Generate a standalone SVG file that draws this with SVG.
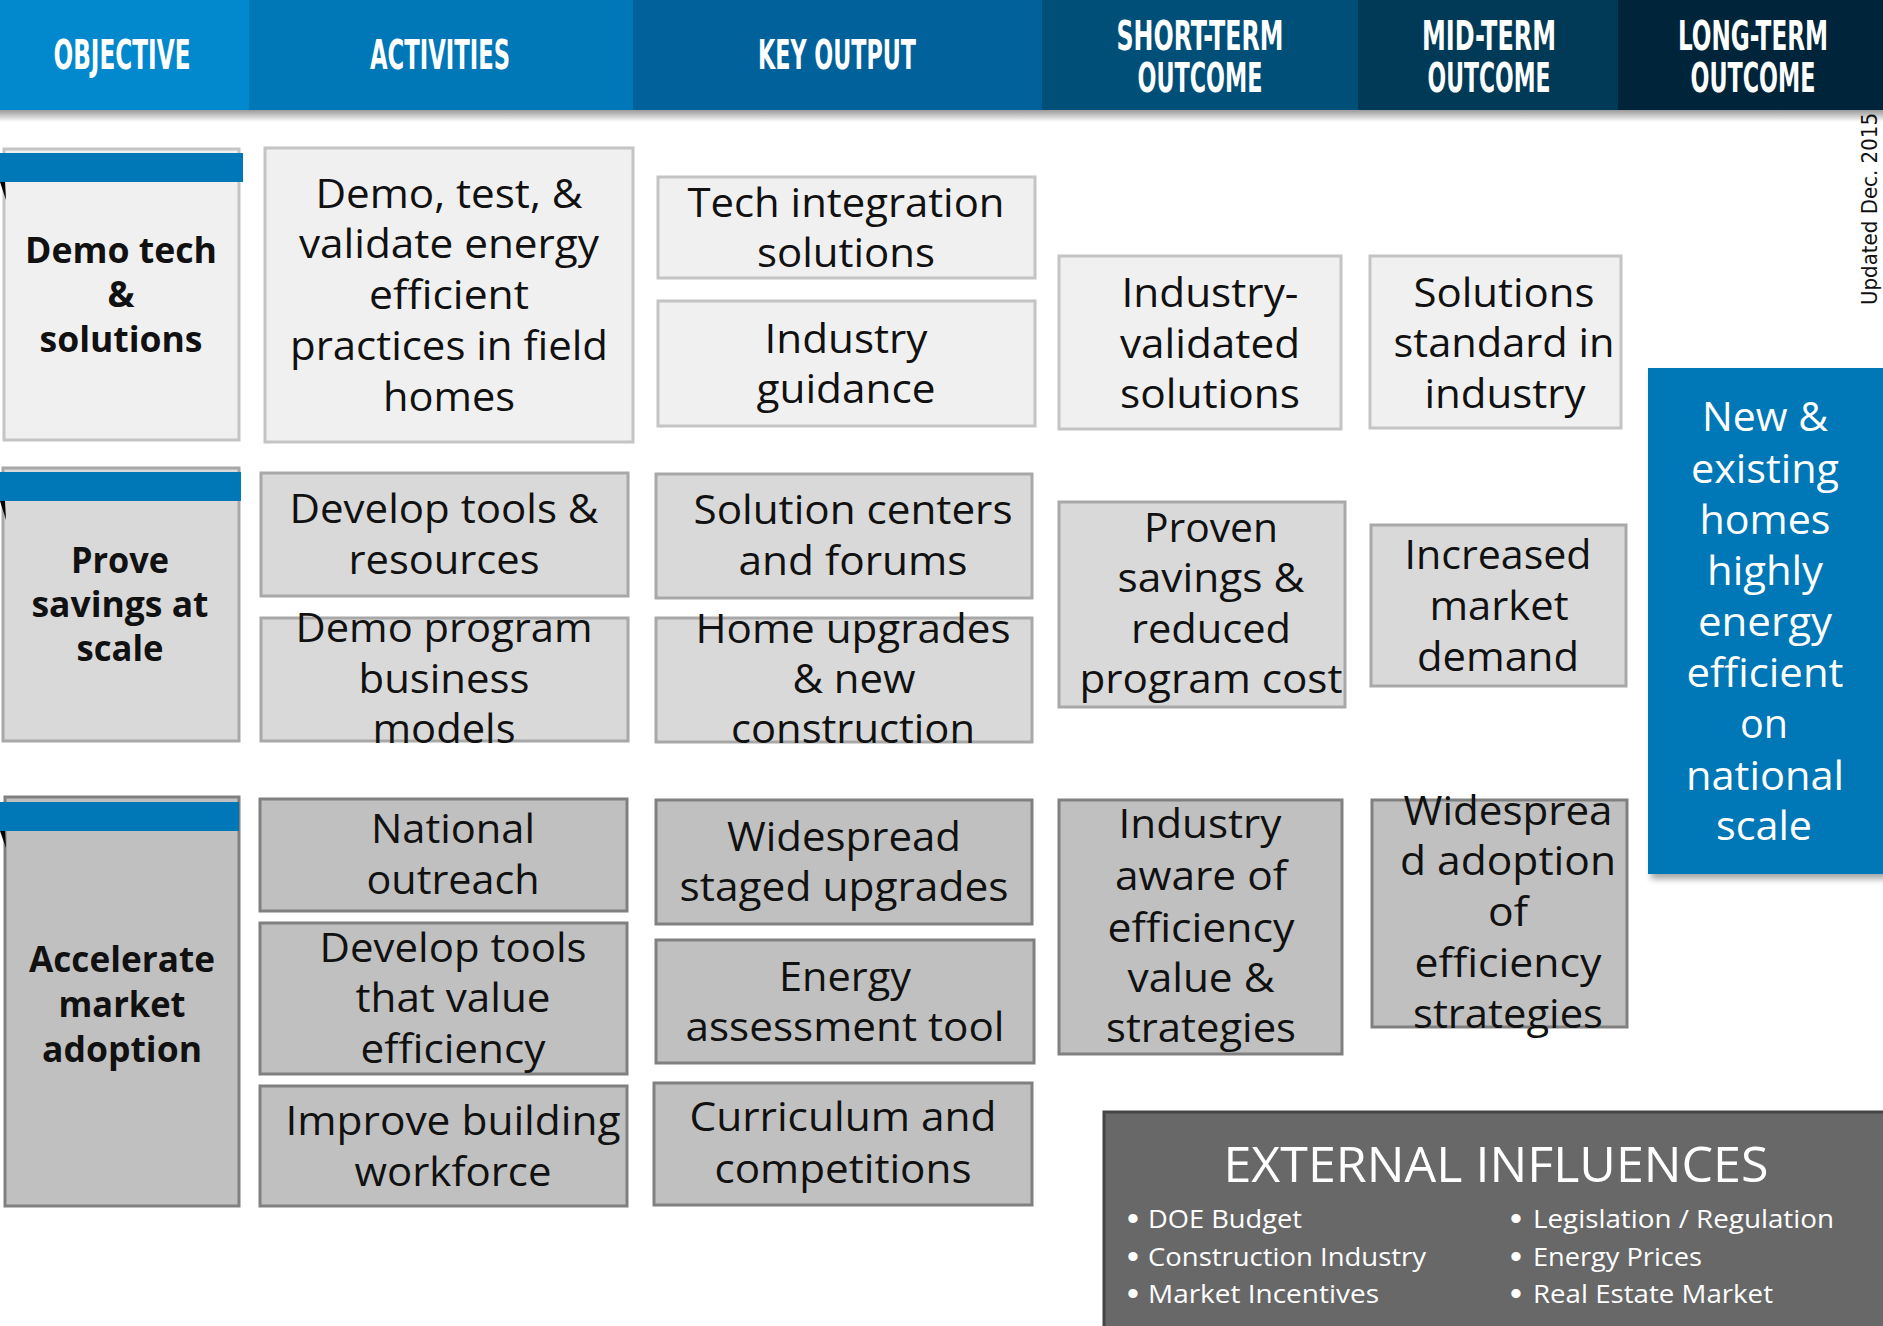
<svg xmlns="http://www.w3.org/2000/svg" width="1883" height="1326" viewBox="0 0 1883 1326">
<style>
.t{font-family:"Open Sans","Noto Sans",sans-serif;font-size:40px;text-anchor:middle;fill:#111}
.ob{font-weight:bold;font-size:36px}
.w{fill:#fff}
.h{font-family:"Liberation Sans Narrow","DejaVu Sans Condensed","Liberation Sans",sans-serif;font-weight:bold;font-size:40px;fill:#fff;text-anchor:middle}
.upd{font-family:"Liberation Sans Narrow","DejaVu Sans Condensed","Liberation Sans",sans-serif;font-size:21px;fill:#111;text-anchor:middle}
.ext{font-family:"Open Sans","Noto Sans",sans-serif;font-size:26px;fill:#fff}
.bul{font-family:"Liberation Sans",sans-serif;font-size:34px;fill:#fff;text-anchor:middle}
.b1{fill:#f0f0f0;stroke:#c4c4c4;stroke-width:3}
.b2{fill:#d9d9d9;stroke:#a8a8a8;stroke-width:3}
.b3{fill:#c0c0c0;stroke:#808080;stroke-width:3}
.bar{fill:#0077b6}
.wedge{fill:#000}
</style>
<defs>
<linearGradient id="hsh" x1="0" y1="0" x2="0" y2="1">
<stop offset="0" stop-color="#9a9a9a"/>
<stop offset="1" stop-color="#ffffff"/>
</linearGradient>
<filter id="ds" x="-10%" y="-10%" width="130%" height="130%">
<feDropShadow dx="3" dy="5" stdDeviation="3" flood-color="#000" flood-opacity="0.35"/>
</filter>
</defs>
<rect x="0" y="0" width="1883" height="1326" fill="#fff"/>

<g id="header">
<rect x="0" y="110" width="1883" height="12" fill="url(#hsh)"/>
<rect x="0" y="0" width="249" height="110" fill="#0288cd"/>
<rect x="249" y="0" width="384" height="110" fill="#0077b7"/>
<rect x="633" y="0" width="409" height="110" fill="#00619b"/>
<rect x="1042" y="0" width="316" height="110" fill="#004f79"/>
<rect x="1358" y="0" width="260" height="110" fill="#003a57"/>
<rect x="1618" y="0" width="265" height="110" fill="#00253a"/>
<text class="h" x="122" y="69" textLength="137" lengthAdjust="spacingAndGlyphs">OBJECTIVE</text>
<text class="h" x="440" y="69" textLength="140" lengthAdjust="spacingAndGlyphs">ACTIVITIES</text>
<text class="h" x="837" y="69" textLength="158" lengthAdjust="spacingAndGlyphs">KEY OUTPUT</text>
<text class="h" x="1200" y="50" textLength="167" lengthAdjust="spacingAndGlyphs">SHORT-TERM</text>
<text class="h" x="1200" y="92" textLength="125" lengthAdjust="spacingAndGlyphs">OUTCOME</text>
<text class="h" x="1489" y="50" textLength="134" lengthAdjust="spacingAndGlyphs">MID-TERM</text>
<text class="h" x="1489" y="92" textLength="123" lengthAdjust="spacingAndGlyphs">OUTCOME</text>
<text class="h" x="1753" y="50" textLength="150" lengthAdjust="spacingAndGlyphs">LONG-TERM</text>
<text class="h" x="1753" y="92" textLength="125" lengthAdjust="spacingAndGlyphs">OUTCOME</text>
</g>

<text class="upd" transform="translate(1877,209) rotate(-90)" textLength="192" lengthAdjust="spacingAndGlyphs">Updated Dec. 2015</text>

<g id="connectors"></g>

<g id="obj1">
<rect class="b1" x="4" y="149" width="235" height="291"/>
<rect class="bar" x="0" y="153" width="243" height="29"/>
<polygon class="wedge" points="0,182 5,182 6,200"/>
<text class="t ob" x="121" y="263" textLength="192" lengthAdjust="spacingAndGlyphs">Demo tech</text>
<text class="t ob" x="121" y="307">&amp;</text>
<text class="t ob" x="121" y="352" textLength="163" lengthAdjust="spacingAndGlyphs">solutions</text>
</g>

<g id="act1">
<rect class="b1" x="265" y="148" width="368" height="294"/>
<text class="t" x="449" y="208" textLength="267" lengthAdjust="spacingAndGlyphs">Demo, test, &amp;</text>
<text class="t" x="449" y="258" textLength="300" lengthAdjust="spacingAndGlyphs">validate energy</text>
<text class="t" x="449" y="309" textLength="160" lengthAdjust="spacingAndGlyphs">efficient</text>
<text class="t" x="449" y="360" textLength="318" lengthAdjust="spacingAndGlyphs">practices in field</text>
<text class="t" x="449" y="411" textLength="132" lengthAdjust="spacingAndGlyphs">homes</text>
</g>

<g id="out1a">
<rect class="b1" x="658" y="177" width="377" height="101"/>
<text class="t" x="846" y="217" textLength="317" lengthAdjust="spacingAndGlyphs">Tech integration</text>
<text class="t" x="846" y="267" textLength="178" lengthAdjust="spacingAndGlyphs">solutions</text>
</g>

<g id="out1b">
<rect class="b1" x="658" y="301" width="377" height="125"/>
<text class="t" x="846" y="353" textLength="163" lengthAdjust="spacingAndGlyphs">Industry</text>
<text class="t" x="846" y="403" textLength="179" lengthAdjust="spacingAndGlyphs">guidance</text>
</g>

<g id="st1">
<rect class="b1" x="1059" y="256" width="282" height="173"/>
<text class="t" x="1210" y="307" textLength="177" lengthAdjust="spacingAndGlyphs">Industry-</text>
<text class="t" x="1210" y="358" textLength="180" lengthAdjust="spacingAndGlyphs">validated</text>
<text class="t" x="1210" y="408" textLength="180" lengthAdjust="spacingAndGlyphs">solutions</text>
</g>

<g id="mt1">
<rect class="b1" x="1370" y="256" width="251" height="172"/>
<text class="t" x="1504" y="307" textLength="181" lengthAdjust="spacingAndGlyphs">Solutions</text>
<text class="t" x="1504" y="357" textLength="221" lengthAdjust="spacingAndGlyphs">standard in</text>
<text class="t" x="1505" y="408" textLength="161" lengthAdjust="spacingAndGlyphs">industry</text>
</g>

<g id="obj2">
<rect class="b2" x="3" y="468" width="236" height="273"/>
<rect class="bar" x="0" y="472" width="241" height="29"/>
<polygon class="wedge" points="0,501 5,501 6,520"/>
<text class="t ob" x="120" y="573" textLength="98" lengthAdjust="spacingAndGlyphs">Prove</text>
<text class="t ob" x="120" y="617" textLength="177" lengthAdjust="spacingAndGlyphs">savings at</text>
<text class="t ob" x="120" y="661" textLength="87" lengthAdjust="spacingAndGlyphs">scale</text>
</g>

<g id="act2a">
<rect class="b2" x="261" y="473" width="367" height="123"/>
<text class="t" x="444" y="523" textLength="309" lengthAdjust="spacingAndGlyphs">Develop tools &amp;</text>
<text class="t" x="444" y="574" textLength="191" lengthAdjust="spacingAndGlyphs">resources</text>
</g>

<g id="act2b">
<rect class="b2" x="261" y="618" width="367" height="123"/>
<text class="t" x="444" y="642" textLength="297" lengthAdjust="spacingAndGlyphs">Demo program</text>
<text class="t" x="444" y="693" textLength="171" lengthAdjust="spacingAndGlyphs">business</text>
<text class="t" x="444" y="743" textLength="143" lengthAdjust="spacingAndGlyphs">models</text>
</g>

<g id="out2a">
<rect class="b2" x="656" y="474" width="376" height="124"/>
<text class="t" x="853" y="524" textLength="319" lengthAdjust="spacingAndGlyphs">Solution centers</text>
<text class="t" x="853" y="575" textLength="229" lengthAdjust="spacingAndGlyphs">and forums</text>
</g>

<g id="out2b">
<rect class="b2" x="656" y="618" width="376" height="124"/>
<text class="t" x="853" y="643" textLength="315" lengthAdjust="spacingAndGlyphs">Home upgrades</text>
<text class="t" x="854" y="693" textLength="123" lengthAdjust="spacingAndGlyphs">&amp; new</text>
<text class="t" x="853" y="743" textLength="244" lengthAdjust="spacingAndGlyphs">construction</text>
</g>

<g id="st2">
<rect class="b2" x="1059" y="502" width="286" height="205"/>
<text class="t" x="1211" y="542" textLength="134" lengthAdjust="spacingAndGlyphs">Proven</text>
<text class="t" x="1211" y="592" textLength="187" lengthAdjust="spacingAndGlyphs">savings &amp;</text>
<text class="t" x="1211" y="643" textLength="160" lengthAdjust="spacingAndGlyphs">reduced</text>
<text class="t" x="1211" y="693" textLength="263" lengthAdjust="spacingAndGlyphs">program cost</text>
</g>

<g id="mt2">
<rect class="b2" x="1371" y="525" width="255" height="161"/>
<text class="t" x="1498" y="569" textLength="187" lengthAdjust="spacingAndGlyphs">Increased</text>
<text class="t" x="1499" y="620" textLength="139" lengthAdjust="spacingAndGlyphs">market</text>
<text class="t" x="1498" y="671" textLength="162" lengthAdjust="spacingAndGlyphs">demand</text>
</g>

<g id="obj3">
<rect class="b3" x="5" y="797" width="234" height="409"/>
<rect class="bar" x="0" y="802" width="239" height="29"/>
<polygon class="wedge" points="0,831 5,831 6,848"/>
<text class="t ob" x="122" y="972" textLength="186" lengthAdjust="spacingAndGlyphs">Accelerate</text>
<text class="t ob" x="122" y="1017" textLength="127" lengthAdjust="spacingAndGlyphs">market</text>
<text class="t ob" x="122" y="1062" textLength="160" lengthAdjust="spacingAndGlyphs">adoption</text>
</g>

<g id="act3a">
<rect class="b3" x="260" y="799" width="367" height="112"/>
<text class="t" x="453" y="843" textLength="164" lengthAdjust="spacingAndGlyphs">National</text>
<text class="t" x="453" y="894" textLength="173" lengthAdjust="spacingAndGlyphs">outreach</text>
</g>

<g id="act3b">
<rect class="b3" x="260" y="923" width="367" height="151"/>
<text class="t" x="453" y="962" textLength="267" lengthAdjust="spacingAndGlyphs">Develop tools</text>
<text class="t" x="453" y="1012" textLength="195" lengthAdjust="spacingAndGlyphs">that value</text>
<text class="t" x="453" y="1063" textLength="185" lengthAdjust="spacingAndGlyphs">efficiency</text>
</g>

<g id="act3c">
<rect class="b3" x="260" y="1086" width="367" height="120"/>
<text class="t" x="453" y="1135" textLength="335" lengthAdjust="spacingAndGlyphs">Improve building</text>
<text class="t" x="453" y="1186" textLength="197" lengthAdjust="spacingAndGlyphs">workforce</text>
</g>

<g id="out3a">
<rect class="b3" x="656" y="800" width="376" height="124"/>
<text class="t" x="844" y="851" textLength="234" lengthAdjust="spacingAndGlyphs">Widespread</text>
<text class="t" x="844" y="901" textLength="329" lengthAdjust="spacingAndGlyphs">staged upgrades</text>
</g>

<g id="out3b">
<rect class="b3" x="656" y="940" width="378" height="123"/>
<text class="t" x="845" y="991" textLength="132" lengthAdjust="spacingAndGlyphs">Energy</text>
<text class="t" x="845" y="1041" textLength="319" lengthAdjust="spacingAndGlyphs">assessment tool</text>
</g>

<g id="out3c">
<rect class="b3" x="654" y="1083" width="378" height="122"/>
<text class="t" x="843" y="1131" textLength="307" lengthAdjust="spacingAndGlyphs">Curriculum and</text>
<text class="t" x="843" y="1183" textLength="257" lengthAdjust="spacingAndGlyphs">competitions</text>
</g>

<g id="st3">
<rect class="b3" x="1059" y="800" width="283" height="254"/>
<text class="t" x="1200" y="838" textLength="163" lengthAdjust="spacingAndGlyphs">Industry</text>
<text class="t" x="1201" y="890" textLength="172" lengthAdjust="spacingAndGlyphs">aware of</text>
<text class="t" x="1201" y="942" textLength="187" lengthAdjust="spacingAndGlyphs">efficiency</text>
<text class="t" x="1201" y="992" textLength="147" lengthAdjust="spacingAndGlyphs">value &amp;</text>
<text class="t" x="1201" y="1042" textLength="190" lengthAdjust="spacingAndGlyphs">strategies</text>
</g>

<g id="mt3">
<rect class="b3" x="1372" y="800" width="255" height="227"/>
<text class="t" x="1508" y="825" textLength="209" lengthAdjust="spacingAndGlyphs">Widesprea</text>
<text class="t" x="1508" y="875" textLength="216" lengthAdjust="spacingAndGlyphs">d adoption</text>
<text class="t" x="1508" y="926" textLength="40" lengthAdjust="spacingAndGlyphs">of</text>
<text class="t" x="1508" y="977" textLength="187" lengthAdjust="spacingAndGlyphs">efficiency</text>
<text class="t" x="1508" y="1028" textLength="190" lengthAdjust="spacingAndGlyphs">strategies</text>
</g>

<g id="lt1">
<rect x="1648" y="368" width="240" height="506" fill="#0077b6" filter="url(#ds)"/>
<text class="t w" x="1765" y="431" textLength="126" lengthAdjust="spacingAndGlyphs">New &amp;</text>
<text class="t w" x="1765" y="483" textLength="148" lengthAdjust="spacingAndGlyphs">existing</text>
<text class="t w" x="1765" y="534" textLength="131" lengthAdjust="spacingAndGlyphs">homes</text>
<text class="t w" x="1765" y="585" textLength="116" lengthAdjust="spacingAndGlyphs">highly</text>
<text class="t w" x="1765" y="636" textLength="134" lengthAdjust="spacingAndGlyphs">energy</text>
<text class="t w" x="1765" y="687" textLength="157" lengthAdjust="spacingAndGlyphs">efficient</text>
<text class="t w" x="1764" y="738" textLength="48" lengthAdjust="spacingAndGlyphs">on</text>
<text class="t w" x="1765" y="790" textLength="158" lengthAdjust="spacingAndGlyphs">national</text>
<text class="t w" x="1764" y="840" textLength="96" lengthAdjust="spacingAndGlyphs">scale</text>
</g>

<g id="external">
<rect x="1104" y="1112" width="785" height="220" fill="#686868" stroke="#454545" stroke-width="3"/>
<text class="ext" x="1496" y="1182" text-anchor="middle" style="font-size:49px" textLength="545" lengthAdjust="spacingAndGlyphs">EXTERNAL INFLUENCES</text>
<text class="bul" x="1133" y="1230">•</text>
<text class="bul" x="1133" y="1268">•</text>
<text class="bul" x="1133" y="1305">•</text>
<text class="ext" x="1148" y="1228" textLength="154" lengthAdjust="spacingAndGlyphs">DOE Budget</text>
<text class="ext" x="1148" y="1266" textLength="278" lengthAdjust="spacingAndGlyphs">Construction Industry</text>
<text class="ext" x="1148" y="1303" textLength="231" lengthAdjust="spacingAndGlyphs">Market Incentives</text>
<text class="bul" x="1516" y="1230">•</text>
<text class="bul" x="1516" y="1268">•</text>
<text class="bul" x="1516" y="1305">•</text>
<text class="ext" x="1533" y="1228" textLength="301" lengthAdjust="spacingAndGlyphs">Legislation / Regulation</text>
<text class="ext" x="1533" y="1266" textLength="169" lengthAdjust="spacingAndGlyphs">Energy Prices</text>
<text class="ext" x="1533" y="1303" textLength="240" lengthAdjust="spacingAndGlyphs">Real Estate Market</text>
</g>
</svg>
